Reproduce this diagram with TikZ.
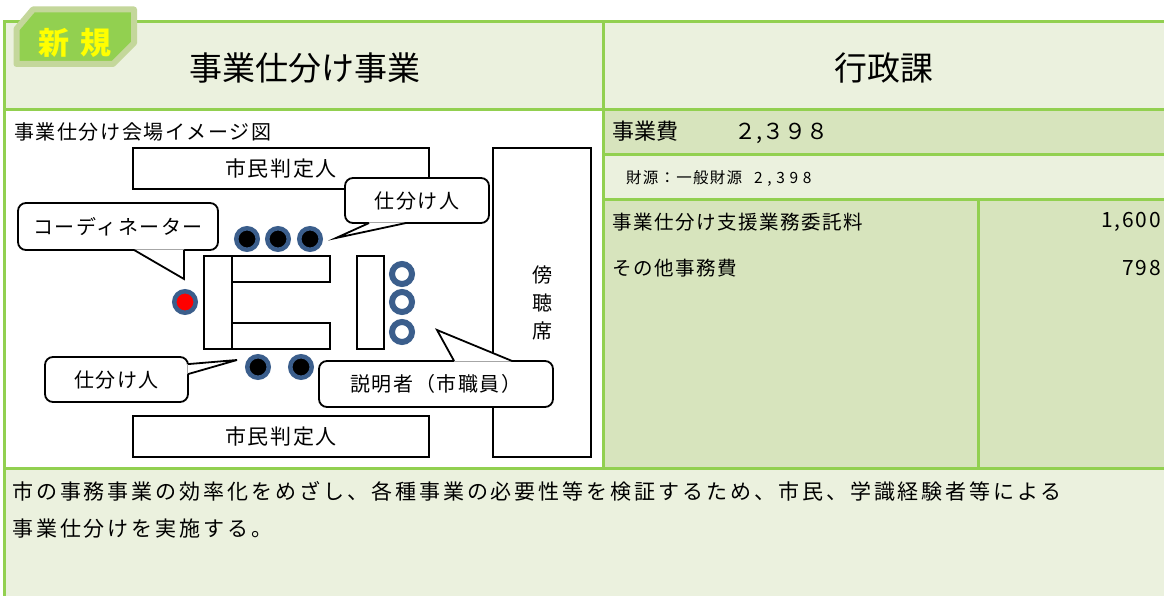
\documentclass[tikz,border=0pt]{standalone}
\usepackage{fontspec}
\setmainfont{Noto Sans CJK JP}
\newfontfamily\jpA[LetterSpace=8]{Noto Sans CJK JP}
\newfontfamily\jpB[LetterSpace=14]{Noto Sans CJK JP}
\newfontfamily\jpN[LetterSpace=30]{Noto Sans CJK JP}
\usetikzlibrary{calc}
\definecolor{grn}{HTML}{92D050}
\definecolor{lite}{HTML}{EBF1DE}
\definecolor{dark}{HTML}{D7E4BD}
\definecolor{badgeout}{HTML}{C4D79B}
\definecolor{ring}{HTML}{3B5E8C}
\definecolor{badgetext}{HTML}{FFFF00}
\begin{document}
\begin{tikzpicture}[x=1pt,y=-1pt,
  frame/.style={draw=grn,line width=3pt},
  box/.style={draw=black,line width=2pt,fill=white,inner sep=0pt},
  callout/.style={draw=black,line width=1.8pt,fill=white,rounded corners=8pt,inner sep=0pt,font=\jpA\fontsize{20}{24}\selectfont},
  ptr/.style={draw=black,line width=1.8pt,line join=miter},
  seat/.style={circle,draw=ring,fill=black,line width=4.5pt,minimum size=21.5pt,inner sep=0pt},
  seatred/.style={seat,fill=red},
  seatopen/.style={circle,draw=ring,fill=white,line width=6pt,minimum size=20pt,inner sep=0pt},
  lbl/.style={font=\jpA\fontsize{19.5}{23}\selectfont,inner sep=0pt},
  boxlbl/.style={font=\jpA\fontsize{21}{25}\selectfont},
  big/.style={font=\fontsize{33}{40}\selectfont,inner sep=0pt},
  body/.style={font=\jpB\fontsize{21}{25}\selectfont,inner sep=0pt,anchor=west}
]
\useasboundingbox (0,0) rectangle (1164,596);
\fill[white] (0,0) rectangle (1164,596);
% fills
\fill[lite] (4.5,21.5) rectangle (1164,110);
\fill[dark] (603,110) rectangle (1164,155);
\fill[lite] (603,155) rectangle (1164,200);
\fill[dark] (603,200) rectangle (1164,468);
\fill[lite] (4.5,468) rectangle (1164,596);
% frame lines
\draw[frame] (4.5,596) -- (4.5,21.5) -- (1164,21.5);
\draw[frame] (4.5,110) -- (1164,110);
\draw[frame] (603,21.5) -- (603,468);
\draw[frame] (603,155) -- (1164,155);
\draw[frame] (603,200) -- (1164,200);
\draw[frame] (978,200) -- (978,468);
\draw[frame] (4.5,468) -- (1164,468);
% badge
\draw[badgeout,fill=grn,line width=6pt,line join=round] (16.5,29) -- (33,9.5) -- (134,9.5) -- (134,43) -- (113,64) -- (16.5,64) -- cycle;
\node[inner sep=0pt,text=badgetext,font=\bfseries\fontsize{31}{32}\selectfont] (badge) at (75,43) {新\hspace{11pt}規};
% header texts
\node[big] (title) at (305,68) {事業仕分け事業};
\node[big] (dept) at (884,68) {行政課};
% right table
\node[inner sep=0pt,anchor=west,font=\fontsize{22}{26}\selectfont] (cost) at (612,132) {事業費\hspace{56pt}２,３９８};
\node[inner sep=0pt,anchor=west,font=\jpA\fontsize{15.5}{18}\selectfont] (src) at (626,178) {財源：一般財源\hspace{12pt}{\jpN 2,398}};
\node[lbl,anchor=west] (i1) at (612,222) {事業仕分け支援業務委託料};
\node[lbl,anchor=east,font=\jpA\fontsize{21}{25}\selectfont] (i1v) at (1161,222) {1,600};
\node[lbl,anchor=west] (i2) at (612,268) {その他事務費};
\node[lbl,anchor=east,font=\jpA\fontsize{21}{25}\selectfont] (i2v) at (1161,268) {798};
% bottom text
\node[body] (d1) at (12,491) {市の事務事業の効率化をめざし、各種事業の必要性等を検証するため、市民、学識経験者等による};
\node[body] (d2) at (12,529) {事業仕分けを実施する。};
% diagram caption
\node[lbl,anchor=west,font=\jpA\fontsize{20}{24}\selectfont] (cap) at (14,132) {事業仕分け会場イメージ図};
% boxes
\node[box,boxlbl,minimum width=296pt,minimum height=41pt] (judgeT) at (281,168.5) {市民判定人};
\node[box,boxlbl,minimum width=296pt,minimum height=41pt] (judgeB) at (281,436.5) {市民判定人};
\node[box,minimum width=98pt,minimum height=309pt,align=center,font=\fontsize{20}{28}\selectfont] (gallery) at (542,302.5) {傍\\聴\\席};
% tables
\draw[box] (204,256) rectangle (232,349);
\draw[box] (232,256) rectangle (330,282);
\draw[box] (232,323) rectangle (330,349);
\draw[box] (357,256) rectangle (384,349);
% seats
\node[seat] (s1) at (247,239) {};
\node[seat] (s2) at (278,239) {};
\node[seat] (s3) at (310,239) {};
\node[seatred] (co) at (185,302) {};
\node[seat] (s4) at (258,367) {};
\node[seat] (s5) at (301,367) {};
\node[seatopen] (e1) at (402,274) {};
\node[seatopen] (e2) at (402,302) {};
\node[seatopen] (e3) at (402,332) {};
% callouts
\node[callout,minimum width=200pt,minimum height=47pt] (cc) at (118,226.5) {コーディネーター};
\coordinate (cctip) at (184,279);
\fill[white] ($(cc.south west)+(117,-1.5)$) -- (cctip) -- ($(cc.south west)+(167,-1.5)$) -- cycle;
\draw[ptr] ($(cc.south west)+(117,-0.9)$) -- (cctip) -- ($(cc.south west)+(167,-0.9)$);

\node[callout,minimum width=144pt,minimum height=45pt] (ct) at (417,200.5) {仕分け人};
\coordinate (cttip) at (336,238);
\fill[white] ($(ct.south west)+(25,-1.5)$) -- (cttip) -- ($(ct.south west)+(62,-1.5)$) -- cycle;
\draw[ptr] ($(ct.south west)+(25,-0.9)$) -- (cttip) -- ($(ct.south west)+(62,-0.9)$);

\node[callout,minimum width=143pt,minimum height=45pt] (cb) at (116.5,379.5) {仕分け人};
\coordinate (cbtip) at (237,360);
\fill[white] ($(cb.north east)+(-1.5,8)$) -- (cbtip) -- ($(cb.north east)+(-1.5,18)$) -- cycle;
\draw[ptr] ($(cb.north east)+(-0.9,8)$) -- (cbtip) -- ($(cb.north east)+(-0.9,18)$);

\node[callout,minimum width=234pt,minimum height=46pt] (ce) at (436,384) {説明者（市職員）};
\coordinate (cetip) at (437,330);
\fill[white] ($(ce.north west)+(136,1.5)$) -- (cetip) -- ($(ce.north west)+(194,1.5)$) -- cycle;
\draw[ptr] ($(ce.north west)+(136,0.9)$) -- (cetip) -- ($(ce.north west)+(194,0.9)$);
\end{tikzpicture}
\end{document}
